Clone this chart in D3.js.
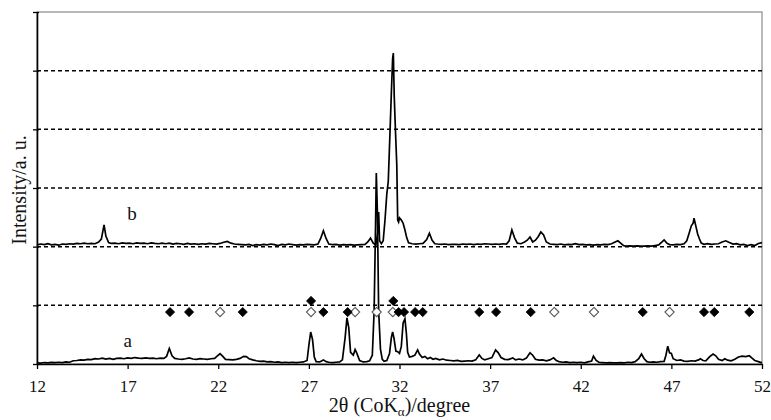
<!DOCTYPE html>
<html>
<head>
<meta charset="utf-8">
<script src="https://cdn.jsdelivr.net/npm/d3@7"></script>
<style>
  body { margin: 0; background: #fff; }
  svg { display: block; font-family: "Liberation Serif", "DejaVu Serif", "Times New Roman", serif; }
</style>
</head>
<body>
<svg id="chart" width="771" height="420"></svg>
<script>
// XRD patterns, 2θ (deg) vs intensity (counts, curve b already stacked)
const traceA = [
  [12.0, 20], [12.2, 15], [12.4, 25], [12.6, 18], [12.8, 28], [13.0, 22], [13.2, 30], [13.4, 24],
  [13.6, 35], [13.8, 30], [14.0, 55], [14.2, 60], [14.4, 70], [14.6, 65], [14.8, 80], [15.0, 75],
  [15.2, 90], [15.4, 85], [15.6, 100], [15.8, 85], [16.0, 95], [16.2, 80], [16.4, 95], [16.6, 100],
  [16.8, 90], [17.0, 105], [17.2, 95], [17.4, 110], [17.6, 100], [17.8, 95], [18.0, 105], [18.2, 95],
  [18.4, 100], [18.6, 90], [18.8, 100], [19.0, 95], [19.15, 130], [19.3, 265], [19.45, 140], [19.6, 95],
  [19.8, 85], [20.0, 80], [20.2, 90], [20.4, 105], [20.6, 85], [20.8, 80], [21.0, 90], [21.2, 85],
  [21.4, 80], [21.6, 90], [21.8, 95], [21.95, 140], [22.1, 175], [22.25, 130], [22.4, 80], [22.6, 75],
  [22.8, 70], [23.0, 80], [23.2, 95], [23.4, 130], [23.55, 125], [23.7, 90], [23.9, 70], [24.1, 55],
  [24.3, 45], [24.5, 50], [24.7, 35], [24.9, 40], [25.1, 30], [25.3, 35], [25.5, 25], [25.7, 30],
  [25.9, 25], [26.1, 30], [26.3, 25], [26.5, 30], [26.7, 35], [26.9, 60], [27.0, 320], [27.1, 545],
  [27.2, 420], [27.3, 120], [27.4, 40], [27.6, 35], [27.8, 70], [27.95, 40], [28.1, 30], [28.3, 25],
  [28.5, 30], [28.7, 35], [28.85, 70], [29.0, 450], [29.1, 785], [29.2, 620], [29.3, 200], [29.45, 150],
  [29.55, 245], [29.65, 180], [29.8, 60], [30.0, 35], [30.2, 40], [30.35, 55], [30.5, 150], [30.6, 900],
  [30.68, 2400], [30.72, 3255], [30.78, 2600], [30.85, 900], [30.95, 250], [31.05, 80], [31.15, 45], [31.3, 60],
  [31.45, 180], [31.55, 450], [31.62, 545], [31.7, 430], [31.8, 220], [31.9, 210], [32.0, 180], [32.1, 300],
  [32.2, 700], [32.3, 770], [32.38, 520], [32.45, 200], [32.55, 120], [32.7, 130], [32.85, 150], [33.0, 240],
  [33.1, 170], [33.25, 110], [33.4, 130], [33.55, 90], [33.7, 110], [33.85, 80], [34.0, 95], [34.2, 70],
  [34.4, 85], [34.6, 65], [34.8, 60], [35.0, 55], [35.2, 60], [35.4, 45], [35.6, 50], [35.8, 55],
  [36.0, 50], [36.2, 70], [36.4, 155], [36.55, 95], [36.7, 70], [36.9, 90], [37.1, 110], [37.3, 240],
  [37.45, 190], [37.6, 110], [37.8, 80], [38.0, 75], [38.25, 105], [38.4, 70], [38.6, 85], [38.8, 70],
  [39.0, 100], [39.2, 190], [39.35, 150], [39.5, 80], [39.7, 65], [39.9, 70], [40.1, 55], [40.3, 70],
  [40.5, 105], [40.65, 60], [40.8, 40], [41.0, 30], [41.2, 35], [41.4, 25], [41.6, 30], [41.8, 25],
  [42.0, 30], [42.2, 20], [42.4, 35], [42.6, 50], [42.7, 135], [42.85, 60], [43.0, 30], [43.2, 25],
  [43.4, 20], [43.6, 25], [43.8, 20], [44.0, 20], [44.2, 25], [44.4, 20], [44.6, 30], [44.8, 25],
  [45.0, 40], [45.2, 90], [45.35, 170], [45.5, 90], [45.65, 40], [45.8, 30], [46.0, 35], [46.2, 30],
  [46.4, 40], [46.6, 45], [46.7, 150], [46.8, 305], [46.9, 190], [47.0, 180], [47.1, 90], [47.3, 60],
  [47.5, 70], [47.7, 50], [47.9, 45], [48.1, 55], [48.3, 50], [48.5, 70], [48.6, 90], [48.75, 60],
  [48.9, 55], [49.1, 120], [49.3, 170], [49.45, 140], [49.6, 80], [49.8, 60], [49.95, 90], [50.1, 65],
  [50.3, 55], [50.5, 80], [50.7, 120], [50.9, 135], [51.1, 125], [51.3, 140], [51.45, 100], [51.6, 60],
  [51.8, 40], [52.0, 20]
];

const traceB = [
  [12.0, 2030], [12.2, 2045], [12.4, 2035], [12.6, 2050], [12.8, 2030], [13.0, 2040], [13.2, 2025], [13.4, 2045],
  [13.6, 2040], [13.8, 2050], [14.0, 2045], [14.2, 2055], [14.4, 2050], [14.6, 2060], [14.8, 2050], [15.0, 2055],
  [15.2, 2050], [15.4, 2080], [15.55, 2130], [15.7, 2370], [15.8, 2180], [15.95, 2070], [16.1, 2055], [16.3, 2060],
  [16.5, 2050], [16.7, 2065], [16.9, 2055], [17.1, 2060], [17.3, 2050], [17.5, 2065], [17.7, 2055], [17.9, 2060],
  [18.1, 2050], [18.3, 2065], [18.5, 2055], [18.7, 2050], [18.9, 2060], [19.1, 2050], [19.3, 2060], [19.5, 2045],
  [19.7, 2055], [19.9, 2050], [20.1, 2040], [20.3, 2055], [20.5, 2045], [20.7, 2050], [20.9, 2040], [21.1, 2050],
  [21.3, 2045], [21.5, 2055], [21.7, 2050], [21.9, 2045], [22.1, 2055], [22.3, 2075], [22.5, 2090], [22.7, 2060],
  [22.9, 2045], [23.1, 2040], [23.3, 2035], [23.5, 2030], [23.7, 2040], [23.9, 2020], [24.1, 2035], [24.3, 2025],
  [24.5, 2040], [24.7, 2030], [24.9, 2045], [25.1, 2035], [25.3, 2020], [25.5, 2040], [25.7, 2030], [25.9, 2045],
  [26.1, 2035], [26.3, 2025], [26.5, 2035], [26.7, 2030], [26.9, 2040], [27.1, 2035], [27.3, 2030], [27.5, 2045],
  [27.65, 2140], [27.8, 2270], [27.95, 2140], [28.1, 2045], [28.3, 2035], [28.5, 2040], [28.7, 2025], [28.9, 2035],
  [29.1, 2030], [29.3, 2035], [29.5, 2025], [29.7, 2030], [29.9, 2035], [30.1, 2040], [30.25, 2080], [30.4, 2145],
  [30.55, 2060], [30.7, 2030], [30.8, 2250], [30.85, 2590], [30.9, 2100], [31.0, 2050], [31.1, 2100], [31.2, 2455],
  [31.3, 2900], [31.38, 3110], [31.48, 3990], [31.56, 4700], [31.62, 5200], [31.66, 5300], [31.71, 4555], [31.78, 3950],
  [31.85, 3395], [31.9, 2455], [31.95, 2420], [32.0, 2490], [32.1, 2455], [32.2, 2400], [32.3, 2285], [32.4, 2150],
  [32.5, 2065], [32.7, 2050], [32.9, 2045], [33.1, 2050], [33.3, 2055], [33.5, 2120], [33.65, 2230], [33.8, 2110],
  [33.95, 2050], [34.1, 2045], [34.3, 2040], [34.5, 2045], [34.7, 2035], [34.9, 2040], [35.1, 2040], [35.3, 2035],
  [35.5, 2045], [35.7, 2040], [35.9, 2045], [36.1, 2035], [36.3, 2045], [36.5, 2040], [36.7, 2050], [36.9, 2045],
  [37.1, 2040], [37.3, 2045], [37.5, 2040], [37.7, 2050], [37.9, 2045], [38.05, 2100], [38.2, 2285], [38.35, 2150],
  [38.5, 2060], [38.7, 2050], [38.9, 2080], [39.05, 2110], [39.2, 2165], [39.35, 2080], [39.5, 2110], [39.65, 2170],
  [39.8, 2250], [39.95, 2200], [40.1, 2080], [40.3, 2045], [40.5, 2040], [40.7, 2035], [40.9, 2045], [41.1, 2030],
  [41.3, 2040], [41.5, 2035], [41.7, 2050], [41.9, 2035], [42.1, 2040], [42.3, 2030], [42.5, 2035], [42.7, 2025],
  [42.9, 2035], [43.1, 2030], [43.3, 2040], [43.5, 2035], [43.7, 2050], [43.9, 2080], [44.05, 2100], [44.2, 2060],
  [44.35, 2020], [44.5, 2010], [44.7, 2015], [44.9, 2010], [45.1, 2015], [45.3, 2010], [45.5, 2010], [45.7, 2015],
  [45.9, 2010], [46.1, 2020], [46.3, 2030], [46.5, 2085], [46.6, 2115], [46.75, 2060], [46.9, 2035], [47.1, 2030],
  [47.3, 2040], [47.5, 2035], [47.7, 2050], [47.85, 2100], [48.0, 2250], [48.1, 2355], [48.2, 2400], [48.25, 2485],
  [48.35, 2350], [48.45, 2215], [48.55, 2130], [48.65, 2060], [48.8, 2040], [49.0, 2050], [49.2, 2040], [49.4, 2045],
  [49.6, 2050], [49.8, 2080], [50.0, 2100], [50.2, 2070], [50.4, 2045], [50.6, 2050], [50.8, 2030], [51.0, 2040],
  [51.2, 2020], [51.4, 2035], [51.6, 2020], [51.8, 2055], [52.0, 2070]
];

// phase markers (2θ positions)
const filledLower = [19.34, 20.39, 23.35, 27.8, 29.14, 31.95, 32.25, 32.86, 33.28, 36.4, 37.33, 39.24, 45.42, 48.8, 49.37, 51.3];
const filledUpper = [27.12, 31.66];
const openLower = [22.1, 27.12, 29.55, 30.74, 31.63, 40.54, 42.73, 46.9];
const markerRows = { lower: 885, upper: 1075 };

const xTicks = [12, 17, 22, 27, 32, 37, 42, 47, 52];
const yTicks = [0, 1000, 2000, 3000, 4000, 5000, 6000];
const gridValues = [1000, 2000, 3000, 4000, 5000];

const curveLabels = [
  { text: "a", x: 17.0, y: 290 },
  { text: "b", x: 17.24, y: 2455 }
];

const margin = { top: 12, right: 9, bottom: 56, left: 37 };
const width = 771, height = 420;
const serif = '"Liberation Serif", "DejaVu Serif", "Times New Roman", serif';

const svg = d3.select("#chart").attr("font-family", serif);

const x = d3.scaleLinear().domain([12, 52]).range([margin.left, width - margin.right]);
const y = d3.scaleLinear().domain([0, 6000]).range([height - margin.bottom, margin.top]);

// plot frame (top/right in grey like Excel)
svg.append("rect")
  .attr("x", x(12)).attr("y", y(6000))
  .attr("width", x(52) - x(12)).attr("height", y(0) - y(6000))
  .attr("fill", "none")
  .attr("stroke", "#8a8a8a")
  .attr("stroke-width", 1.2);

// dashed gridlines
svg.append("g")
  .selectAll("line")
  .data(gridValues)
  .enter()
  .append("line")
  .attr("x1", x(12)).attr("x2", x(52))
  .attr("y1", d => y(d)).attr("y2", d => y(d))
  .attr("stroke", "#000")
  .attr("stroke-width", 1.5)
  .attr("stroke-dasharray", "4,3");

// axes
const xAxis = svg.append("g")
  .attr("transform", `translate(0,${y(0)})`)
  .call(d3.axisBottom(x).tickValues(xTicks).tickSize(5).tickSizeOuter(0).tickFormat(d3.format("d")));
xAxis.attr("font-family", null);
xAxis.select(".domain").attr("stroke", "#000").attr("stroke-width", 1.6);
xAxis.selectAll(".tick line").attr("stroke", "#000").attr("stroke-width", 1.3);
xAxis.selectAll(".tick text")
  .attr("dy", null)
  .attr("y", 28)
  .attr("fill", "#111")
  .style("font-family", serif)
  .style("font-size", "17px");

const yAxis = svg.append("g")
  .attr("transform", `translate(${x(12)},0)`)
  .call(d3.axisLeft(y).tickValues(yTicks).tickSize(4).tickSizeOuter(0).tickFormat(""));
yAxis.select(".domain").attr("stroke", "#000").attr("stroke-width", 1.6);
yAxis.selectAll(".tick line").attr("x1", 2).attr("stroke", "#000").attr("stroke-width", 1.3);

// traces
const line = d3.line()
  .x(d => x(d[0]))
  .y(d => y(d[1]));

svg.append("g")
  .selectAll("path")
  .data([traceA, traceB])
  .enter()
  .append("path")
  .attr("d", line)
  .attr("fill", "none")
  .attr("stroke", "#000")
  .attr("stroke-width", 1.7)
  .attr("stroke-linejoin", "miter");

// diamond markers
const diamond = "M0,-4.6L4.6,0L0,4.6L-4.6,0Z";

const markers = svg.append("g");
markers.selectAll("path.open")
  .data(openLower)
  .enter()
  .append("path")
  .attr("class", "open")
  .attr("d", diamond)
  .attr("transform", d => `translate(${x(d)},${y(markerRows.lower)})`)
  .attr("fill", "#fff")
  .attr("stroke", "#555")
  .attr("stroke-width", 1.1);

markers.selectAll("path.filled")
  .data(filledLower.map(v => [v, markerRows.lower]).concat(filledUpper.map(v => [v, markerRows.upper])))
  .enter()
  .append("path")
  .attr("class", "filled")
  .attr("d", diamond)
  .attr("transform", d => `translate(${x(d[0])},${y(d[1])})`)
  .attr("fill", "#000")
  .attr("stroke", "#000")
  .attr("stroke-width", 0.8);

// curve labels
svg.append("g")
  .selectAll("text")
  .data(curveLabels)
  .enter()
  .append("text")
  .attr("x", d => x(d.x))
  .attr("y", d => y(d.y))
  .attr("text-anchor", "middle")
  .attr("fill", "#111")
  .style("font-family", serif)
  .style("font-size", "19px")
  .text(d => d.text);

// axis titles
const xTitle = svg.append("text")
  .attr("x", (x(12) + x(52)) / 2)
  .attr("y", 412)
  .attr("text-anchor", "middle")
  .attr("fill", "#111")
  .style("font-family", serif)
  .style("font-size", "20px");
xTitle.append("tspan").text("2θ (CoK");
xTitle.append("tspan").attr("dy", 4).style("font-size", "13px").text("α");
xTitle.append("tspan").attr("dy", -4).text(")/degree");

svg.append("text")
  .attr("transform", `translate(26,${(y(0) + y(6000)) / 2 + 2}) rotate(-90)`)
  .attr("text-anchor", "middle")
  .attr("fill", "#111")
  .style("font-family", serif)
  .style("font-size", "20px")
  .text("Intensity/a. u.");
</script>
</body>
</html>
